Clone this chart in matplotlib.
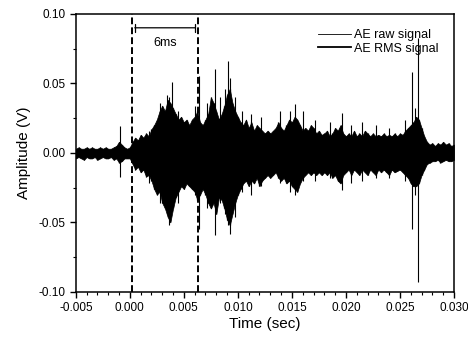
import numpy as np
import matplotlib.pyplot as plt
from matplotlib.lines import Line2D
from matplotlib.ticker import AutoMinorLocator

plt.rcParams['font.family'] = ['Liberation Sans', 'DejaVu Sans']

# envelope of the AE raw signal, one sample every 0.25 ms
time_s = np.round(np.arange(-0.005, 0.030001, 0.00025), 5)
env_hi = [0.003, 0.004, 0.003, 0.003, 0.004, 0.003, 0.004, 0.003, 0.003, 0.004,
          0.003, 0.004, 0.003, 0.003, 0.004, 0.005, 0.008, 0.006, 0.004, 0.003,
          0.004, 0.008, 0.011, 0.009, 0.013, 0.011, 0.014, 0.012, 0.017, 0.020,
          0.024, 0.030, 0.034, 0.030, 0.038, 0.036, 0.032, 0.028, 0.024, 0.026,
          0.022, 0.024, 0.020, 0.024, 0.026, 0.030, 0.022, 0.020, 0.024, 0.028,
          0.040, 0.036, 0.030, 0.024, 0.028, 0.034, 0.042, 0.046, 0.036, 0.030,
          0.026, 0.022, 0.020, 0.024, 0.018, 0.022, 0.016, 0.020, 0.018, 0.016,
          0.014, 0.016, 0.014, 0.016, 0.018, 0.022, 0.018, 0.016, 0.020, 0.024,
          0.022, 0.026, 0.024, 0.020, 0.016, 0.018, 0.016, 0.020, 0.018, 0.014,
          0.016, 0.013, 0.014, 0.016, 0.012, 0.014, 0.018, 0.016, 0.020, 0.014,
          0.012, 0.014, 0.012, 0.016, 0.012, 0.014, 0.012, 0.016, 0.014, 0.012,
          0.014, 0.012, 0.013, 0.012, 0.014, 0.012, 0.013, 0.012, 0.014, 0.012,
          0.014, 0.013, 0.016, 0.018, 0.020, 0.022, 0.026, 0.024, 0.018, 0.012,
          0.008, 0.006, 0.007, 0.005, 0.007, 0.006, 0.008, 0.006, 0.007, 0.005,
          0.006]
env_lo = [-0.004, -0.003, -0.004, -0.005, -0.003, -0.004, -0.004, -0.003, -0.005, -0.004,
          -0.003, -0.004, -0.004, -0.003, -0.005, -0.004, -0.007, -0.006, -0.004, -0.004,
          -0.004, -0.008, -0.012, -0.010, -0.014, -0.012, -0.017, -0.016, -0.020, -0.026,
          -0.030, -0.028, -0.036, -0.040, -0.046, -0.050, -0.040, -0.032, -0.028, -0.024,
          -0.026, -0.022, -0.024, -0.026, -0.028, -0.034, -0.030, -0.026, -0.030, -0.036,
          -0.040, -0.036, -0.044, -0.032, -0.034, -0.040, -0.048, -0.052, -0.044, -0.036,
          -0.030, -0.026, -0.022, -0.020, -0.024, -0.020, -0.022, -0.018, -0.024, -0.020,
          -0.018, -0.016, -0.018, -0.016, -0.014, -0.018, -0.020, -0.018, -0.022, -0.020,
          -0.024, -0.026, -0.028, -0.022, -0.018, -0.016, -0.014, -0.016, -0.014, -0.016,
          -0.014, -0.016, -0.014, -0.016, -0.014, -0.018, -0.016, -0.020, -0.022, -0.016,
          -0.014, -0.012, -0.016, -0.012, -0.014, -0.016, -0.012, -0.014, -0.016, -0.012,
          -0.014, -0.016, -0.012, -0.014, -0.012, -0.014, -0.016, -0.012, -0.014, -0.013,
          -0.012, -0.014, -0.016, -0.018, -0.022, -0.024, -0.024, -0.022, -0.016, -0.012,
          -0.008, -0.007, -0.006, -0.006, -0.005, -0.007, -0.006, -0.005, -0.006, -0.006,
          -0.005]

# individual bursts sticking out of the envelope
spike_t = [-0.0009, 0.0018, 0.0028, 0.0034, 0.0036, 0.0039, 0.0045, 0.0060, 0.0064,
           0.0071, 0.0079, 0.0083, 0.0088, 0.0091, 0.0093, 0.0097, 0.0104, 0.0112,
           0.0121, 0.0139, 0.0148, 0.0153, 0.0160, 0.0171, 0.0185, 0.0196, 0.0205,
           0.0215, 0.0228, 0.0240, 0.0255, 0.0261, 0.0264, 0.0267]
spike_hi = [0.019, 0.016, 0.036, 0.042, 0.040, 0.051, 0.030, 0.034, 0.055,
            0.036, 0.060, 0.040, 0.046, 0.066, 0.054, 0.040, 0.030, 0.028,
            0.026, 0.030, 0.030, 0.035, 0.030, 0.024, 0.022, 0.029, 0.020,
            0.022, 0.020, 0.018, 0.024, 0.058, 0.032, 0.083]
spike_lo = [-0.017, -0.022, -0.036, -0.044, -0.052, -0.030, -0.036, -0.030, -0.055,
            -0.040, -0.059, -0.036, -0.044, -0.052, -0.058, -0.046, -0.028, -0.030,
            -0.024, -0.022, -0.028, -0.030, -0.020, -0.020, -0.018, -0.027, -0.022,
            -0.020, -0.018, -0.018, -0.020, -0.055, -0.030, -0.093]

marker_t = [0.0002, 0.0063]

fig = plt.figure(figsize=(4.68, 3.39), dpi=100)
ax = fig.add_axes([0.162, 0.139, 0.808, 0.820])

ax.fill_between(time_s, env_lo, env_hi, color='black', lw=0.5)
ax.vlines(time_s, env_lo, env_hi, color='black', lw=0.9)
ax.vlines(spike_t, spike_lo, spike_hi, color='black', lw=0.8)

for t in marker_t:
    ax.axvline(t, color='black', ls=(0, (3.5, 1.6)), lw=1.4)
ax.annotate('', xy=(marker_t[0], 0.09), xytext=(marker_t[1], 0.09),
            arrowprops=dict(arrowstyle='|-|', lw=0.9, color='black', mutation_scale=3))
ax.text((marker_t[0] + marker_t[1]) / 2, 0.079, '6ms', ha='center', va='center', fontsize=9)

ax.set_xlim(-0.005, 0.030)
ax.set_ylim(-0.10, 0.10)
ax.set_xticks(np.arange(-0.005, 0.0301, 0.005))
ax.set_xticklabels(['-0.005', '0.000', '0.005', '0.010', '0.015', '0.020', '0.025', '0.030'])
ax.set_yticks([-0.10, -0.05, 0.0, 0.05, 0.10])
ax.set_yticklabels(['-0.10', '-0.05', '0.00', '0.05', '0.10'])
ax.xaxis.set_minor_locator(AutoMinorLocator(5))
ax.yaxis.set_minor_locator(AutoMinorLocator(2))
ax.tick_params(which='major', direction='out', length=4, width=1, labelsize=8.5)
ax.tick_params(which='minor', direction='out', length=2, width=0.8)
for s in ax.spines.values():
    s.set_linewidth(1.1)

ax.set_xlabel('Time (sec)', fontsize=11, labelpad=2)
ax.set_ylabel('Amplitude (V)', fontsize=11, labelpad=5)

handles = [Line2D([], [], color='black', lw=0.6),
           Line2D([], [], color='black', lw=1.3)]
ax.legend(handles, ['AE raw signal', 'AE RMS signal'], loc='upper right', frameon=False,
          fontsize=9, handlelength=2.6, handletextpad=0.3, labelspacing=0.15,
          borderaxespad=0.9, borderpad=0.3)

fig.savefig('out.png', dpi=100)
